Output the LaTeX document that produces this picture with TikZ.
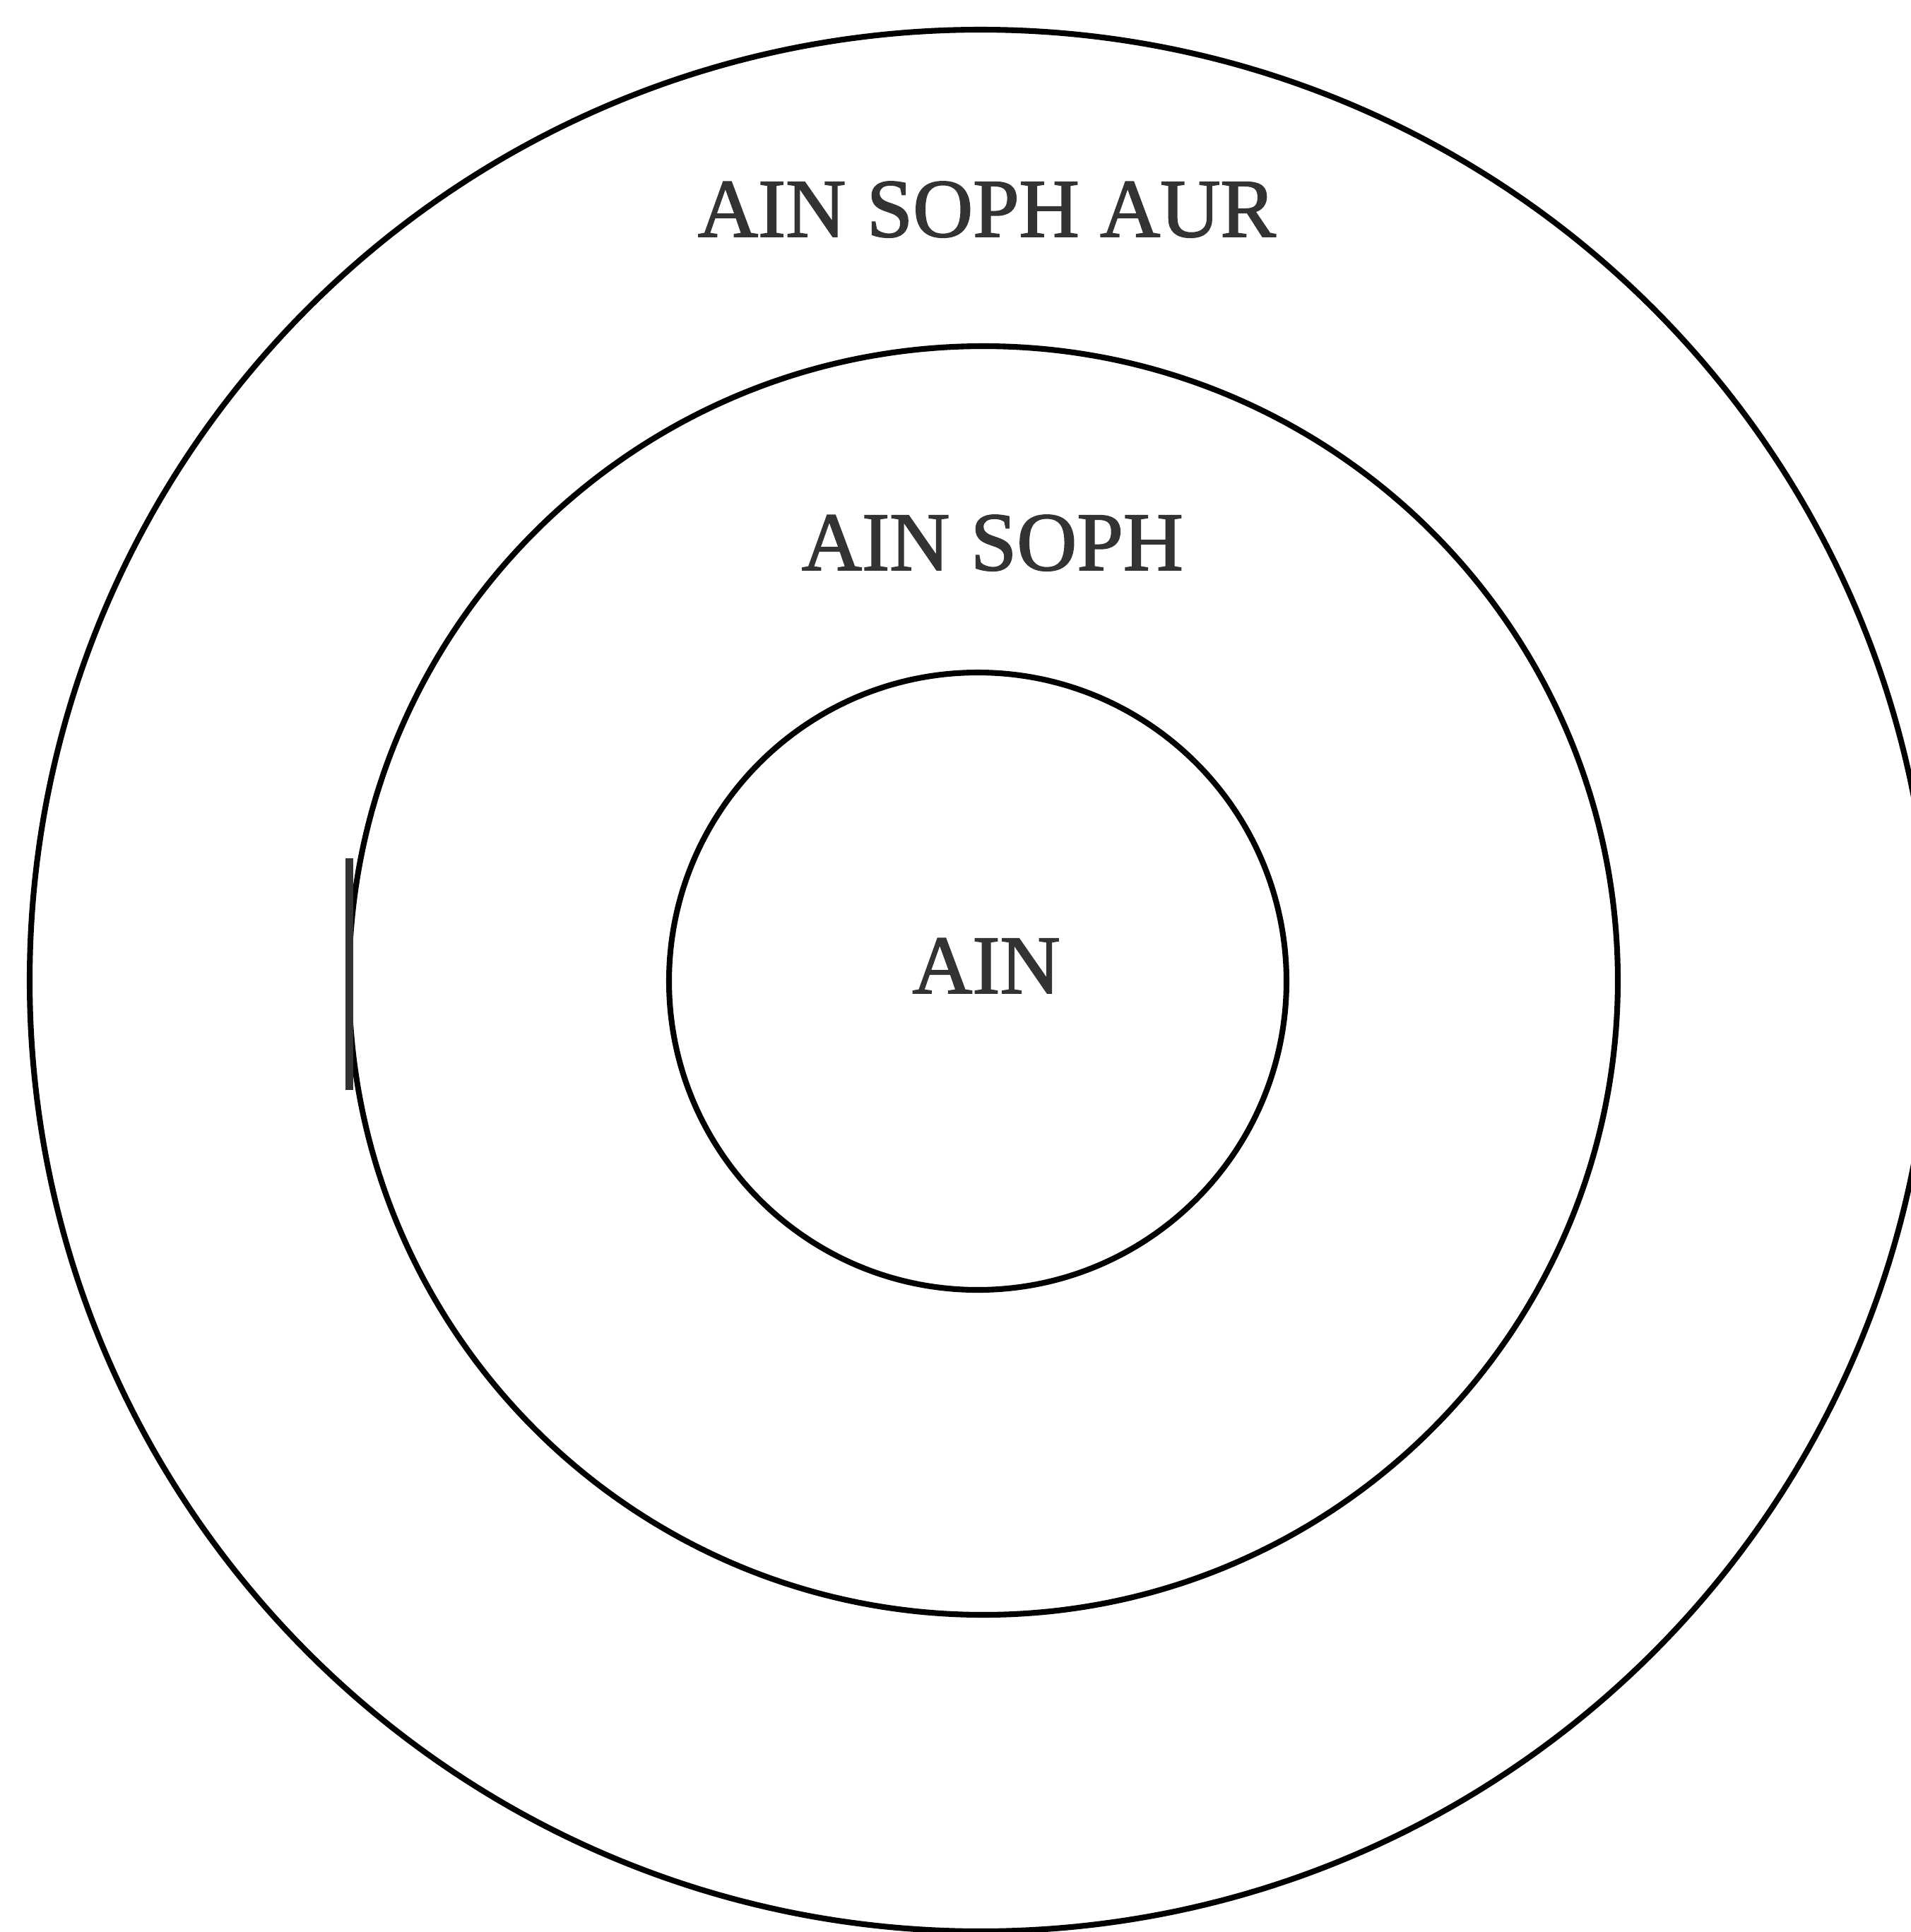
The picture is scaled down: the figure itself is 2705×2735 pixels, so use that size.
\documentclass[tikz,border=0pt]{standalone}
\usepackage{fontspec}
\setmainfont{Liberation Serif}
\newfontfamily\ringfont{Liberation Serif}[FakeBold=1.6]
\usepackage{tikz}
\usetikzlibrary{positioning}
\definecolor{inkgray}{HTML}{333333}
\tikzset{
    ring/.style={draw=black, line width=2.3pt},
    label/.style={text=inkgray, font=\ringfont\fontsize{33.5}{40}\selectfont, anchor=base, inner sep=0pt}
}

\begin{document}
\begin{tikzpicture}[x=0.01cm, y=-0.01cm]
    \useasboundingbox (0,0) rectangle (2705,2735);
    \clip (0,0) rectangle (2705,2735);
    \fill[white] (0,0) rectangle (2705,2735);

    \coordinate (c) at (1388,1388);
    \draw [ring] (c) circle [radius=1346];
    \draw [ring] (1392,1388) circle [radius=898];
    \draw [ring] (1384,1389) circle [radius=437];
    \fill [inkgray] (489,1215) rectangle (500,1543);

    \node (aur) [label] at (1397,335) {AIN SOPH AUR};
    \node (soph) [label] at (1405,807) {AIN SOPH};
    \node (ain) [label] at (1396,1406) {AIN};
\end{tikzpicture}
\end{document}
